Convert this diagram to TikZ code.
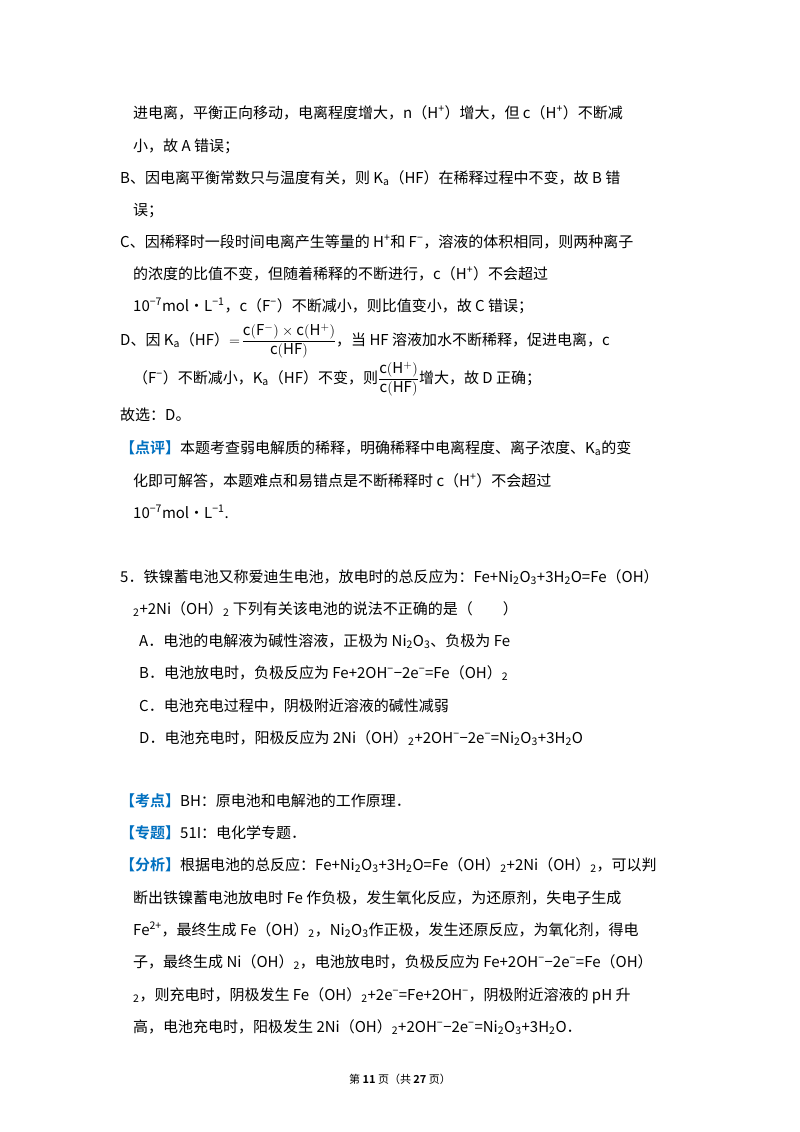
\documentclass[tikz,border=0pt]{standalone}
\usepackage{fontspec}
\setmainfont{Noto Sans CJK SC}[BoldFont={Noto Sans CJK SC Bold}]
\definecolor{kb}{RGB}{0,112,192}
\newcommand{\up}[1]{\textsuperscript{#1}}
\newcommand{\dn}[1]{\textsubscript{#1}}
\newcommand{\mi}{−}
\newcommand{\hd}[1]{\textcolor{kb}{\textbf{#1}}}
\begin{document}
\begin{tikzpicture}[x=1pt,y=-1pt,every node/.style={anchor=base west,inner sep=0pt,font=\fontsize{15}{18}\selectfont},
foot/.style={anchor=base,font=\fontsize{11}{13}\selectfont}]
\fill[white] (0,0) rectangle (800,1132);
\node (l1) at (133,118) {进电离，平衡正向移动，电离程度增大，n（H\up{+}）增大，但 c（H\up{+}）不断减};
\node (l2) at (133,151) {小，故 A 错误；};
\node (l3) at (120,183) {B、因电离平衡常数只与温度有关，则 K\dn{a}（HF）在稀释过程中不变，故 B 错};
\node (l4) at (133,215) {误；};
\node (l5) at (120,247) {C、因稀释时一段时间电离产生等量的 H\up{+}和 F\up{\mi}，溶液的体积相同，则两种离子};
\node (l6) at (133,279) {的浓度的比值不变，但随着稀释的不断进行，c（H\up{+}）不会超过};
\node (l7) at (133,311) {10\up{\mi7}mol•L\up{\mi1}，c（F\up{\mi}）不断减小，则比值变小，故 C 错误；};
\node (l8) at (120,345) {D、因 K\dn{a}（HF）$\displaystyle=\!\frac{\mathrm{c(F^-)\times c(H^+)}}{\mathrm{c(HF)}}$，当 HF 溶液加水不断稀释，促进电离，c};
\node (l9) at (133,383) {（F\up{\mi}）不断减小，K\dn{a}（HF）不变，则$\displaystyle\frac{\mathrm{c(H^+)}}{\mathrm{c(HF)}}$增大，故 D 正确；};
\node (l10) at (120,420) {故选：D。};
\node (l11) at (120,453) {\hd{【点评】}本题考查弱电解质的稀释，明确稀释中电离程度、离子浓度、K\dn{a}的变};
\node (l12) at (133,486) {化即可解答，本题难点和易错点是不断稀释时 c（H\up{+}）不会超过};
\node (l13) at (133,518) {10\up{\mi7}mol•L\up{\mi1}.};
\node (l14) at (120,582) {5．铁镍蓄电池又称爱迪生电池，放电时的总反应为：Fe+Ni\dn{2}O\dn{3}+3H\dn{2}O=Fe（OH）};
\node (l15) at (133,614) {\dn{2}+2Ni（OH）\dn{2} 下列有关该电池的说法不正确的是（　　）};
\node (l16) at (139,646) {A．电池的电解液为碱性溶液，正极为 Ni\dn{2}O\dn{3}、负极为 Fe};
\node (l17) at (139,678) {B．电池放电时，负极反应为 Fe+2OH\up{\mi}\mi2e\up{\mi}=Fe（OH）\dn{2}};
\node (l18) at (139,711) {C．电池充电过程中，阴极附近溶液的碱性减弱};
\node (l19) at (139,743) {D．电池充电时，阳极反应为 2Ni（OH）\dn{2}+2OH\up{\mi}\mi2e\up{\mi}=Ni\dn{2}O\dn{3}+3H\dn{2}O};
\node (l20) at (120,806) {\hd{【考点】}BH：原电池和电解池的工作原理．};
\node (l21) at (120,838) {\hd{【专题】}51I：电化学专题．};
\node (l22) at (120,870) {\hd{【分析】}根据电池的总反应：Fe+Ni\dn{2}O\dn{3}+3H\dn{2}O=Fe（OH）\dn{2}+2Ni（OH）\dn{2}，可以判};
\node (l23) at (133,903) {断出铁镍蓄电池放电时 Fe 作负极，发生氧化反应，为还原剂，失电子生成};
\node (l24) at (133,935) {Fe\up{2+}，最终生成 Fe（OH）\dn{2}，Ni\dn{2}O\dn{3}作正极，发生还原反应，为氧化剂，得电};
\node (l25) at (133,967) {子，最终生成 Ni（OH）\dn{2}，电池放电时，负极反应为 Fe+2OH\up{\mi}\mi2e\up{\mi}=Fe（OH）};
\node (l26) at (133,1000) {\dn{2}，则充电时，阴极发生 Fe（OH）\dn{2}+2e\up{\mi}=Fe+2OH\up{\mi}，阴极附近溶液的 pH 升};
\node (l27) at (133,1032) {高，电池充电时，阳极发生 2Ni（OH）\dn{2}+2OH\up{\mi}\mi2e\up{\mi}=Ni\dn{2}O\dn{3}+3H\dn{2}O．};
\node[foot] (ft) at (400,1083) {第 \textbf{11} 页（共 \textbf{27} 页）};
\end{tikzpicture}
\end{document}
